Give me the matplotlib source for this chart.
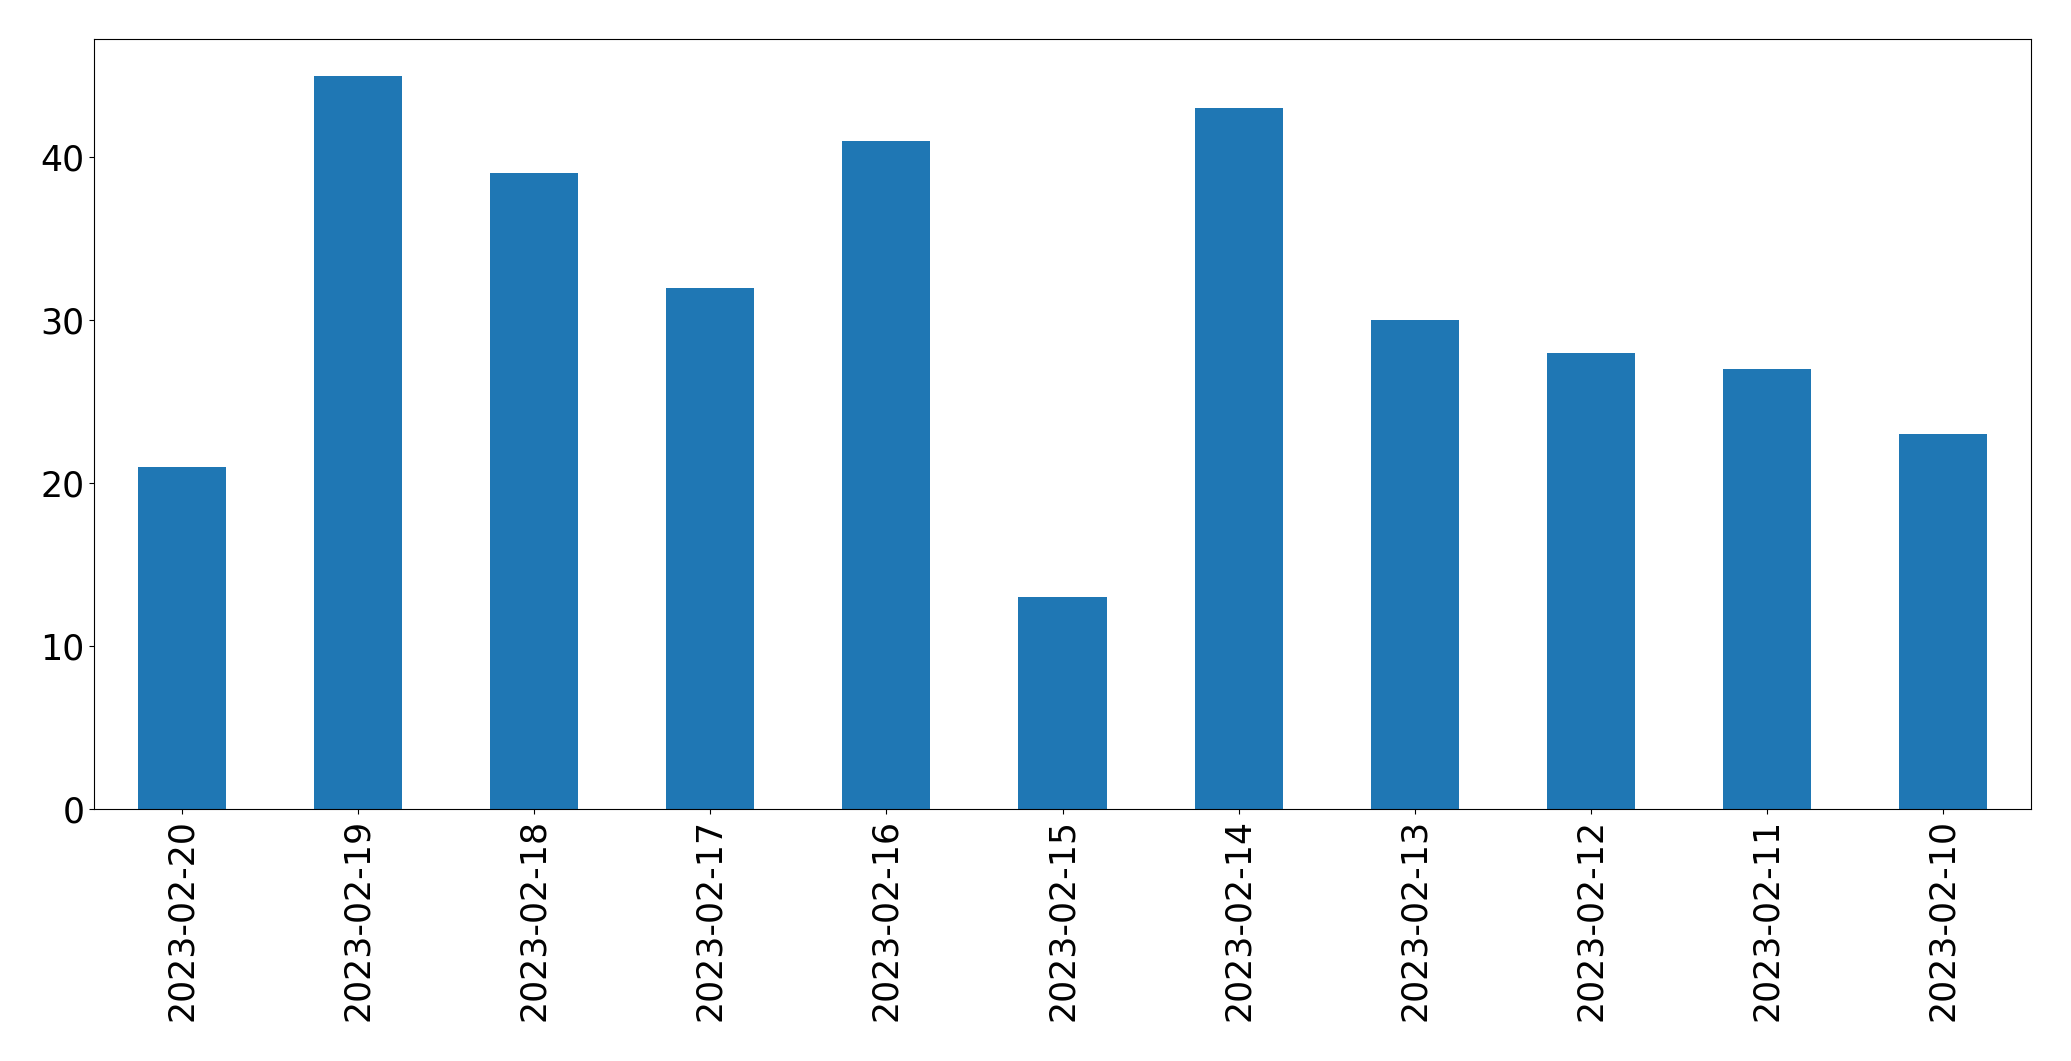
import matplotlib
matplotlib.use("Agg")
import matplotlib.pyplot as plt

dates = ['2023-02-20', '2023-02-19', '2023-02-18', '2023-02-17', '2023-02-16',
         '2023-02-15', '2023-02-14', '2023-02-13', '2023-02-12', '2023-02-11',
         '2023-02-10']
counts = [21, 45, 39, 32, 41, 13, 43, 30, 28, 27, 23]

fig = plt.figure(figsize=(20.71, 10.61), dpi=100)
ax = fig.add_axes([94 / 2071, 1 - 809 / 1061, 1937 / 2071, 770 / 1061])
pos = list(range(len(dates)))
ax.bar(pos, counts, width=0.5, color='#1f77b4')
ax.set_xlim(-0.5, len(dates) - 0.5)
ax.set_ylim(0, max(counts) * 1.05)
ax.set_xticks(pos)
ax.set_xticklabels(dates, rotation=90)
ax.tick_params(labelsize=25)
fig.savefig('out.png', dpi=100)
